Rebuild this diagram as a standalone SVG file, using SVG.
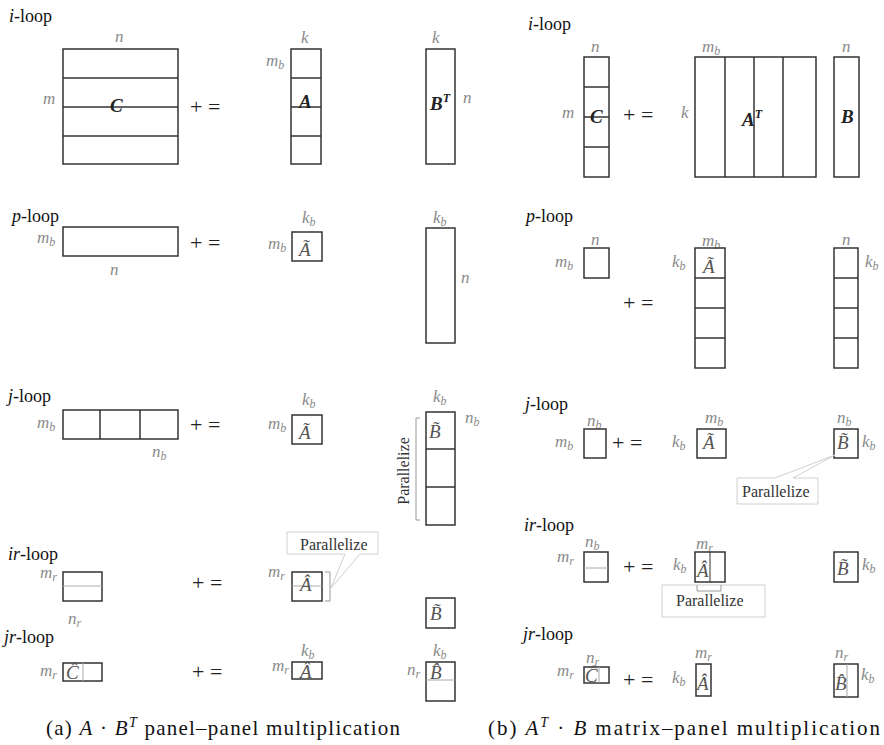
<svg xmlns="http://www.w3.org/2000/svg" width="884" height="745" viewBox="0 0 884 745" font-family="'Liberation Serif','DejaVu Serif',serif">
<style>
text{font-family:"Liberation Serif","DejaVu Serif",serif}
.box{fill:none;stroke:#333;stroke-width:1.5}
.ln{stroke:#333;stroke-width:1.5}
.lt{stroke:#aaa;stroke-width:1}
.dim{font-style:italic;font-size:17px;fill:#8a8a8a}
.sub{font-size:12px}
.lbl{font-style:italic;font-weight:bold;font-size:19px;fill:#222}
.til{font-style:italic;font-size:19px;fill:#555}
.loop{font-size:18px;fill:#111}
.it{font-style:italic}
.op{font-size:22px;fill:#222}
.par{font-size:16px;fill:#333}
.co{fill:#fff;stroke:#d0d0d0;stroke-width:1}
.br{fill:none;stroke:#999;stroke-width:1}
.cap{font-size:21px;fill:#111}
</style>
<rect width="884" height="745" fill="#fff"/>

<!-- LEFT PANEL -->
<g id="left-i-loop">
<text class="loop" x="9" y="22"><tspan class="it">i</tspan>-loop</text>
<text class="dim" x="115" y="42">n</text>
<rect class="box" x="63" y="49" width="115" height="115"/>
<line class="ln" x1="63" y1="78" x2="178" y2="78"/><line class="ln" x1="63" y1="107" x2="178" y2="107"/><line class="ln" x1="63" y1="136" x2="178" y2="136"/>
<text class="dim" x="43" y="104">m</text>
<text class="lbl" x="110" y="112">C</text>
<text class="op" x="190" y="114">+ =</text>
<text class="dim" x="301" y="43">k</text>
<rect class="box" x="291" y="49" width="30" height="115"/>
<line class="ln" x1="291" y1="78" x2="321" y2="78"/><line class="ln" x1="291" y1="107" x2="321" y2="107"/><line class="ln" x1="291" y1="136" x2="321" y2="136"/>
<text class="dim" x="266" y="66">m<tspan class="sub" dy="3">b</tspan></text>
<text class="lbl" x="299" y="108">A</text>
<rect class="box" x="426" y="49" width="29" height="115"/>
<text class="dim" x="432" y="43">k</text>
<text class="lbl" x="430" y="110">B<tspan class="sub" dy="-8">T</tspan></text>
<text class="dim" x="463" y="103">n</text>
</g>

<g id="left-p-loop">
<text class="loop" x="12" y="222"><tspan class="it">p</tspan>-loop</text>
<text class="dim" x="37" y="243">m<tspan class="sub" dy="3">b</tspan></text>
<rect class="box" x="63" y="227" width="115" height="29"/>
<text class="dim" x="110" y="275">n</text>
<text class="op" x="190" y="250">+ =</text>
<text class="dim" x="302" y="223">k<tspan class="sub" dy="3">b</tspan></text>
<text class="dim" x="268" y="249">m<tspan class="sub" dy="3">b</tspan></text>
<rect class="box" x="292" y="232" width="30" height="29"/>
<text class="til" x="299" y="256">Ã</text>
<rect class="box" x="426" y="228" width="29" height="115"/>
<text class="dim" x="433" y="223">k<tspan class="sub" dy="3">b</tspan></text>
<text class="dim" x="461" y="283">n</text>
</g>

<g id="left-j-loop">
<text class="loop" x="8" y="402"><tspan class="it">j</tspan>-loop</text>
<text class="dim" x="37" y="428">m<tspan class="sub" dy="3">b</tspan></text>
<rect class="box" x="63" y="410" width="115" height="29"/>
<line class="ln" x1="100" y1="410" x2="100" y2="439"/><line class="ln" x1="140" y1="410" x2="140" y2="439"/>
<text class="dim" x="152" y="457">n<tspan class="sub" dy="3">b</tspan></text>
<text class="op" x="190" y="432">+ =</text>
<text class="dim" x="302" y="405">k<tspan class="sub" dy="3">b</tspan></text>
<text class="dim" x="268" y="429">m<tspan class="sub" dy="3">b</tspan></text>
<rect class="box" x="292" y="415" width="30" height="29"/>
<text class="til" x="299" y="439">Ã</text>
<rect class="box" x="426" y="412" width="29" height="113"/>
<line class="ln" x1="426" y1="449" x2="455" y2="449"/><line class="ln" x1="426" y1="487" x2="455" y2="487"/>
<text class="dim" x="433" y="402">k<tspan class="sub" dy="3">b</tspan></text>
<text class="til" x="429" y="438">B̃</text>
<text class="dim" x="465" y="423">n<tspan class="sub" dy="3">b</tspan></text>
<path class="br" d="M420,418 H416 V520 H420"/>
<text class="par" transform="translate(409,471) rotate(-90)" text-anchor="middle">Parallelize</text>
</g>

<g id="left-ir-loop">
<text class="loop" x="8" y="560"><tspan class="it">ir</tspan>-loop</text>
<text class="dim" x="40" y="578">m<tspan class="sub" dy="3">r</tspan></text>
<rect class="box" x="63" y="572" width="39" height="29"/>
<line class="lt" x1="63" y1="586" x2="102" y2="586"/>
<text class="dim" x="68" y="624">n<tspan class="sub" dy="3">r</tspan></text>
<text class="op" x="192" y="590">+ =</text>
<text class="dim" x="268" y="577">m<tspan class="sub" dy="3">r</tspan></text>
<rect class="box" x="292" y="572" width="30" height="29"/>
<line class="lt" x1="292" y1="586" x2="322" y2="586"/>
<text class="til" x="300" y="591">Â</text>
<path class="br" d="M325,572 H330 V601 H325"/>
<path class="co" d="M287,532 H378 V554 H360 L331,588 L345,554 H287 Z"/>
<text class="par" x="300" y="550">Parallelize</text>
<rect class="box" x="426" y="598" width="29" height="30"/>
<text class="til" x="430" y="620">B̃</text>
</g>

<g id="left-jr-loop">
<text class="loop" x="4" y="643"><tspan class="it">jr</tspan>-loop</text>
<text class="dim" x="40" y="676">m<tspan class="sub" dy="3">r</tspan></text>
<rect class="box" x="63" y="663" width="39" height="18"/>
<line class="lt" x1="83" y1="663" x2="83" y2="681"/>
<text class="til" x="66" y="679">Ĉ</text>
<text class="op" x="192" y="679">+ =</text>
<text class="dim" x="301" y="656">k<tspan class="sub" dy="3">b</tspan></text>
<text class="dim" x="272" y="671">m<tspan class="sub" dy="3">r</tspan></text>
<rect class="box" x="292" y="662" width="30" height="17"/>
<text class="til" x="300" y="678">Â</text>
<rect class="box" x="426" y="662" width="29" height="39"/>
<line class="lt" x1="426" y1="680" x2="455" y2="680"/>
<text class="til" x="430" y="679">B̂</text>
<text class="dim" x="433" y="656">k<tspan class="sub" dy="3">b</tspan></text>
<text class="dim" x="407" y="675">n<tspan class="sub" dy="3">r</tspan></text>
</g>

<!-- RIGHT PANEL -->
<g id="right-i-loop">
<text class="loop" x="528" y="30"><tspan class="it">i</tspan>-loop</text>
<text class="dim" x="591" y="52">n</text>
<rect class="box" x="584" y="57" width="25" height="120"/>
<line class="ln" x1="584" y1="87" x2="609" y2="87"/><line class="ln" x1="584" y1="117" x2="609" y2="117"/><line class="ln" x1="584" y1="147" x2="609" y2="147"/>
<text class="dim" x="562" y="118">m</text>
<text class="lbl" x="590" y="123">C</text>
<text class="op" x="623" y="122">+ =</text>
<text class="dim" x="681" y="118">k</text>
<text class="dim" x="702" y="52">m<tspan class="sub" dy="3">b</tspan></text>
<rect class="box" x="695" y="57" width="121" height="120"/>
<line class="ln" x1="725" y1="57" x2="725" y2="177"/><line class="ln" x1="754" y1="57" x2="754" y2="177"/><line class="ln" x1="783" y1="57" x2="783" y2="177"/>
<text class="lbl" x="742" y="126">A<tspan class="sub" dy="-8">T</tspan></text>
<rect class="box" x="834" y="57" width="25" height="120"/>
<text class="dim" x="842" y="52">n</text>
<text class="lbl" x="841" y="123">B</text>
</g>

<g id="right-p-loop">
<text class="loop" x="526" y="222"><tspan class="it">p</tspan>-loop</text>
<text class="dim" x="591" y="245">n</text>
<rect class="box" x="584" y="248" width="25" height="30"/>
<text class="dim" x="555" y="267">m<tspan class="sub" dy="3">b</tspan></text>
<text class="op" x="623" y="310">+ =</text>
<text class="dim" x="672" y="267">k<tspan class="sub" dy="3">b</tspan></text>
<text class="dim" x="702" y="246">m<tspan class="sub" dy="3">b</tspan></text>
<rect class="box" x="695" y="248" width="30" height="120"/>
<line class="ln" x1="695" y1="278" x2="725" y2="278"/><line class="ln" x1="695" y1="308" x2="725" y2="308"/><line class="ln" x1="695" y1="338" x2="725" y2="338"/>
<text class="til" x="703" y="273">Ã</text>
<rect class="box" x="834" y="248" width="24" height="120"/>
<line class="ln" x1="834" y1="278" x2="858" y2="278"/><line class="ln" x1="834" y1="308" x2="858" y2="308"/><line class="ln" x1="834" y1="338" x2="858" y2="338"/>
<text class="dim" x="842" y="245">n</text>
<text class="dim" x="865" y="267">k<tspan class="sub" dy="3">b</tspan></text>
</g>

<g id="right-j-loop">
<text class="loop" x="525" y="410"><tspan class="it">j</tspan>-loop</text>
<text class="dim" x="587" y="426">n<tspan class="sub" dy="3">b</tspan></text>
<rect class="box" x="584" y="429" width="22" height="29"/>
<text class="dim" x="555" y="447">m<tspan class="sub" dy="3">b</tspan></text>
<text class="op" x="612" y="450">+ =</text>
<text class="dim" x="672" y="447">k<tspan class="sub" dy="3">b</tspan></text>
<text class="dim" x="705" y="423">m<tspan class="sub" dy="3">b</tspan></text>
<rect class="box" x="697" y="429" width="29" height="29"/>
<text class="til" x="703" y="449">Ã</text>
<rect class="box" x="834" y="429" width="24" height="29"/>
<text class="til" x="837" y="449">B̃</text>
<text class="dim" x="837" y="423">n<tspan class="sub" dy="3">b</tspan></text>
<text class="dim" x="862" y="447">k<tspan class="sub" dy="3">b</tspan></text>
<path class="co" d="M737,478 H775 L835,455 L793,478 H818 V504 H737 Z"/>
<text class="par" x="742" y="497">Parallelize</text>
</g>

<g id="right-ir-loop">
<text class="loop" x="524" y="531"><tspan class="it">ir</tspan>-loop</text>
<text class="dim" x="557" y="562">m<tspan class="sub" dy="3">r</tspan></text>
<text class="dim" x="585" y="547">n<tspan class="sub" dy="3">b</tspan></text>
<rect class="box" x="584" y="552" width="24" height="30"/>
<line class="lt" x1="584" y1="568" x2="608" y2="568"/>
<text class="op" x="623" y="574">+ =</text>
<text class="dim" x="673" y="570">k<tspan class="sub" dy="3">b</tspan></text>
<text class="dim" x="696" y="549">m<tspan class="sub" dy="3">r</tspan></text>
<rect class="co" x="662" y="585" width="103" height="32"/>
<rect class="box" x="695" y="552" width="30" height="30"/>
<line class="ln" x1="710" y1="552" x2="710" y2="582" style="stroke-width:1"/>
<text class="til" x="697" y="577">Â</text>
<path class="br" d="M697,585 V591 H721 V585"/>
<text class="par" x="676" y="606">Parallelize</text>
<rect class="box" x="834" y="552" width="24" height="30"/>
<text class="til" x="837" y="575">B̃</text>
<text class="dim" x="862" y="570">k<tspan class="sub" dy="3">b</tspan></text>
</g>

<g id="right-jr-loop">
<text class="loop" x="523" y="640"><tspan class="it">jr</tspan>-loop</text>
<text class="dim" x="586" y="663">n<tspan class="sub" dy="3">r</tspan></text>
<rect class="box" x="584" y="667" width="25" height="16"/>
<line class="lt" x1="599" y1="667" x2="599" y2="683"/>
<text class="til" x="585" y="682">Ĉ</text>
<text class="dim" x="557" y="676">m<tspan class="sub" dy="3">r</tspan></text>
<text class="op" x="623" y="687">+ =</text>
<text class="dim" x="672" y="683">k<tspan class="sub" dy="3">b</tspan></text>
<text class="dim" x="695" y="658">m<tspan class="sub" dy="3">r</tspan></text>
<rect class="box" x="696" y="664" width="15" height="32"/>
<text class="til" x="697" y="690">Â</text>
<rect class="box" x="834" y="664" width="24" height="33"/>
<line class="lt" x1="847" y1="664" x2="847" y2="697"/>
<text class="til" x="835" y="690">B̂</text>
<text class="dim" x="835" y="658">n<tspan class="sub" dy="3">r</tspan></text>
<text class="dim" x="861" y="680">k<tspan class="sub" dy="3">b</tspan></text>
</g>

<g id="captions">
<text class="cap" x="46" y="735" textLength="354" lengthAdjust="spacing">(a) <tspan class="it">A</tspan> · <tspan class="it">B</tspan><tspan font-size="14" class="it" dy="-8">T</tspan><tspan dy="8"> panel–panel multiplication</tspan></text>
<text class="cap" x="488" y="735" textLength="392" lengthAdjust="spacing">(b) <tspan class="it">A</tspan><tspan font-size="14" class="it" dy="-8">T</tspan><tspan dy="8"> · </tspan><tspan class="it">B</tspan> matrix–panel multiplication</text>
</g>
</svg>
